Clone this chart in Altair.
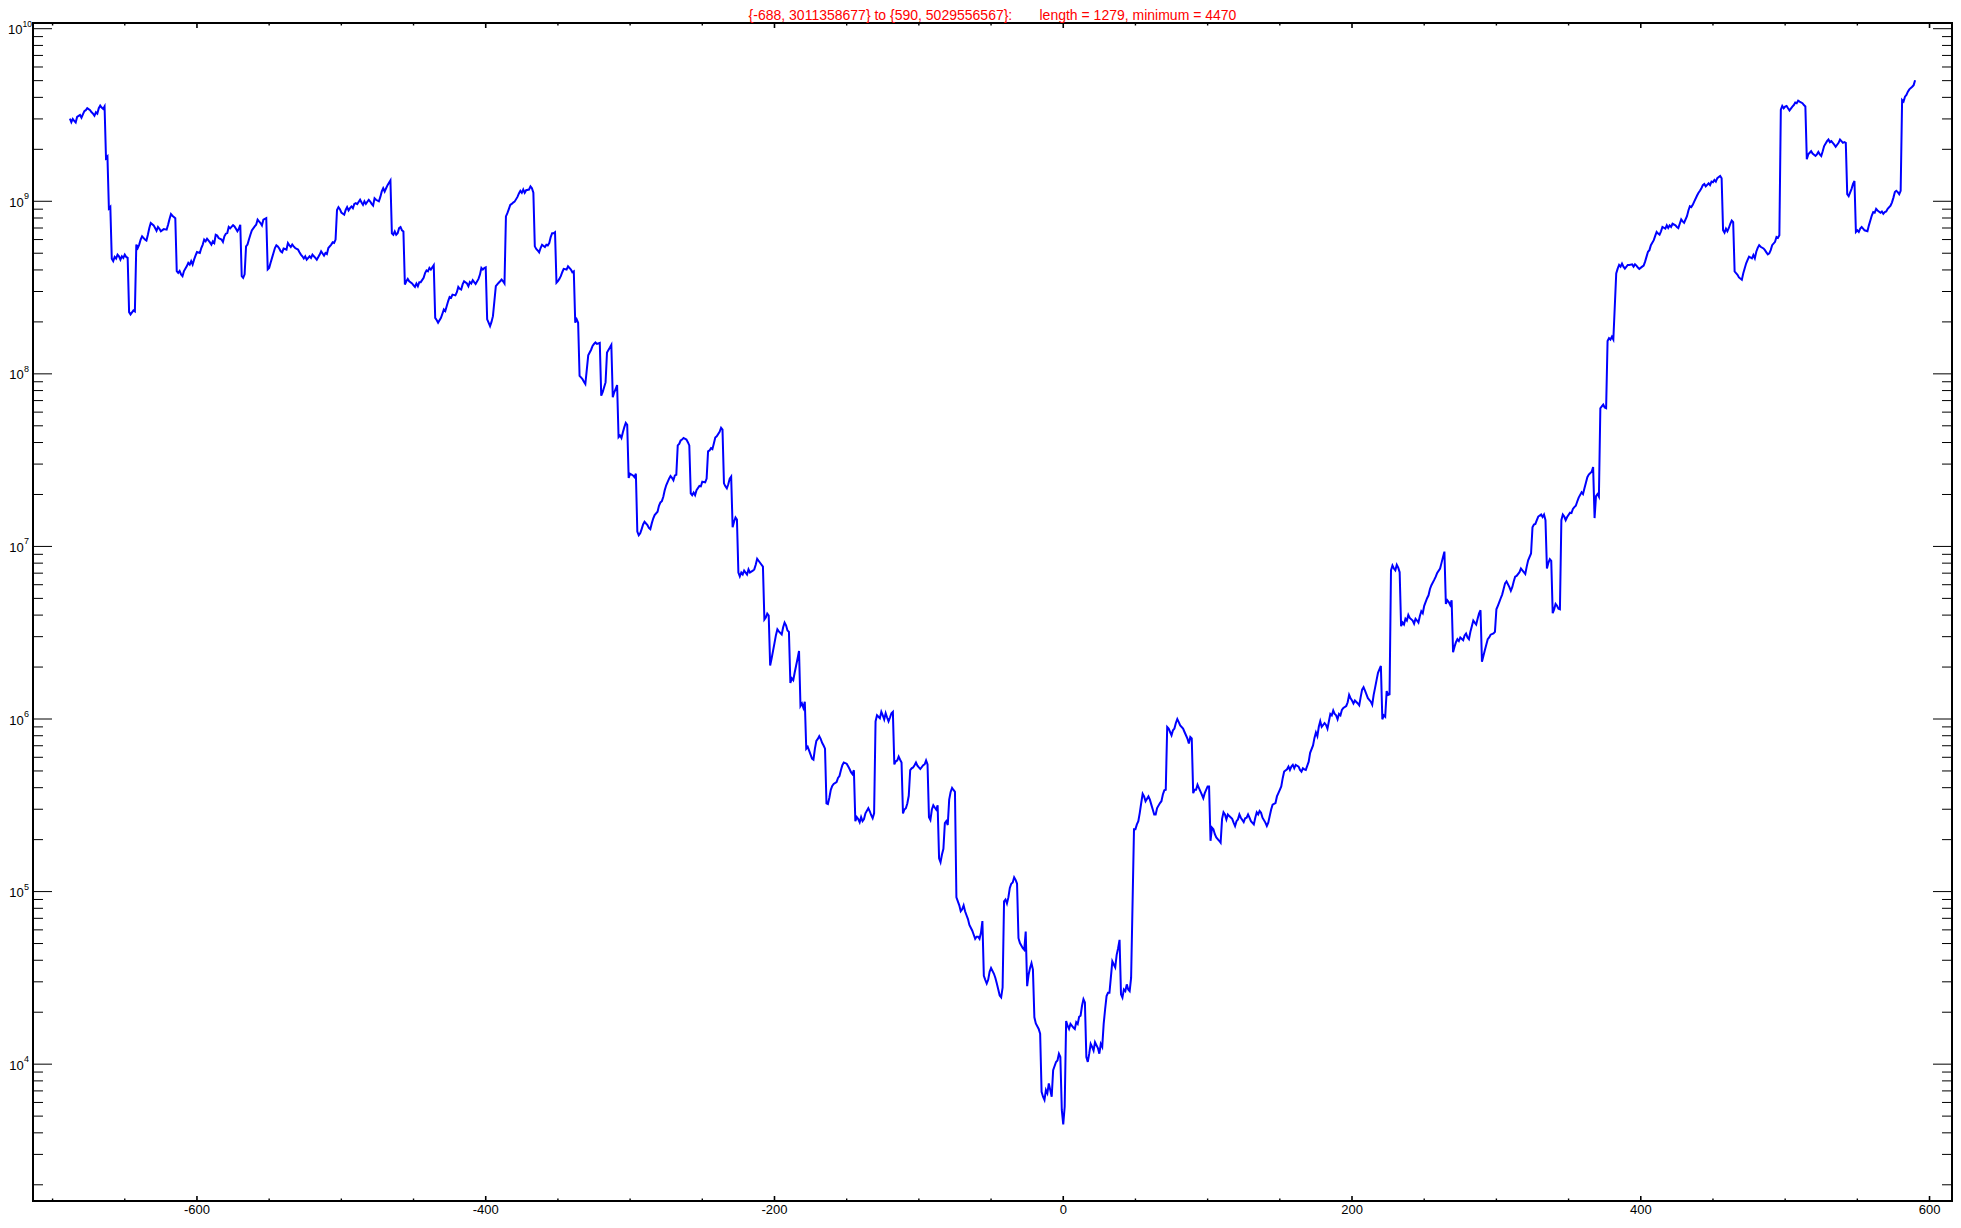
import altair as alt
import pandas as pd

# ---- data (x, value) ----
seg_a = [(-688,3.011358677e9),(-687,2.87e9),(-686,3.0e9),(-685,2.92e9),(-684,2.86e9),(-683,3.08e9),(-681,3.16e9),(-680,3.05e9),(-679,3.19e9),(-678,3.33e9),(-677,3.37e9),(-676,3.46e9),(-674,3.37e9),(-673,3.28e9),(-672,3.22e9),(-671,3.13e9),(-670,3.28e9),(-669,3.22e9),(-668,3.46e9),(-667,3.58e9),(-666,3.49e9),(-665,3.43e9),(-664,3.55e9),(-663,1.78e9),(-662,1.82e9),(-661,9.1e8),(-660,9.3e8),(-659,4.65e8),(-658,4.5e8),(-657,4.76e8),(-656,4.66e8),(-655,4.91e8),(-654,4.80e8),(-653,4.59e8),(-652,4.80e8),(-651,4.70e8),(-650,4.91e8),(-649,4.76e8),(-648,4.70e8),(-647,2.28e8),(-646,2.21e8),(-644,2.33e8),(-643,2.30e8),(-642,5.61e8),(-641,5.36e8),(-640,5.61e8),(-639,6.0e8),(-638,6.27e8),(-636,6.0e8),(-635,5.92e8),(-634,6.40e8),(-633,7.0e8),(-632,7.48e8),(-630,7.25e8),(-629,7.0e8),(-628,6.75e8),(-627,7.1e8),(-626,6.93e8),(-625,6.70e8),(-623,6.9e8),(-621,6.85e8),(-620,7.31e8),(-619,7.89e8),(-618,8.43e8),(-617,8.25e8),(-615,7.98e8),(-614,3.94e8),(-613,3.85e8),(-612,3.95e8),(-611,3.77e8),(-610,3.68e8),(-609,3.94e8),(-607,4.21e8),(-606,4.40e8),(-605,4.30e8),(-604,4.50e8),(-603,4.30e8),(-602,4.59e8),(-601,4.84e8),(-600,5.08e8),(-598,5.02e8),(-597,5.36e8),(-596,5.61e8),(-595,6.0e8),(-594,5.86e8),(-593,6.07e8),(-591,5.78e8),(-590,5.61e8),(-589,5.86e8),(-588,5.73e8),(-587,6.40e8),(-586,6.34e8),(-585,6.12e8),(-583,6.0e8),(-582,5.81e8),(-581,6.27e8),(-580,6.49e8),(-579,6.55e8),(-578,7.10e8),(-577,6.97e8),(-575,7.28e8),(-574,7.15e8),(-573,6.93e8),(-572,6.70e8),(-571,6.93e8),(-570,7.31e8),(-569,3.68e8),(-568,3.60e8),(-567,3.77e8),(-566,5.48e8),(-565,5.61e8),(-564,6.0e8),(-563,6.40e8),(-562,6.78e8),(-560,7.15e8),(-559,7.31e8),(-558,7.82e8),(-557,7.64e8),(-556,7.48e8),(-555,7.25e8),(-554,7.82e8),(-552,7.98e8),(-551,4.03e8),(-550,4.11e8),(-549,4.40e8),(-548,4.70e8),(-547,5.02e8),(-546,5.36e8),(-545,5.56e8),(-544,5.48e8),(-543,5.32e8),(-542,5.13e8),(-541,5.06e8),(-540,5.32e8),(-538,5.25e8),(-537,5.73e8),(-536,5.56e8),(-535,5.43e8),(-534,5.61e8),(-533,5.48e8),(-532,5.36e8),(-530,5.25e8),(-529,5.06e8),(-528,4.91e8),(-527,4.80e8),(-526,4.66e8),(-525,4.80e8),(-524,4.59e8),(-522,4.80e8),(-521,4.70e8),(-520,4.91e8),(-519,4.80e8),(-518,4.70e8),(-517,4.59e8),(-515,4.91e8),(-514,5.13e8),(-513,4.98e8),(-512,4.84e8),(-511,5.02e8),(-510,4.95e8),(-509,5.36e8),(-507,5.61e8),(-506,5.78e8),(-505,5.73e8),(-504,6.0e8),(-503,8.91e8),(-502,9.25e8),(-501,9.0e8),(-500,8.61e8),(-498,8.36e8),(-497,8.91e8),(-496,9.25e8),(-495,8.85e8),(-494,9.12e8),(-493,9.33e8),(-492,9.12e8),(-491,9.66e8),(-490,9.75e8),(-489,9.63e8),(-487,1.02e9),(-486,9.84e8),(-485,9.53e8),(-484,1.0e9),(-483,9.66e8),(-481,1.02e9),(-480,9.97e8)]

seg_b = [(-479,9.66e8),(-478,9.44e8),(-477,1.04e9),(-476,1.02e9),(-474,1.0e9),(-473,1.06e9),(-472,1.14e9),(-471,1.19e9),(-470,1.14e9),(-469,1.19e9),(-468,1.24e9),(-466,1.32e9),(-465,6.53e8),(-464,6.40e8),(-463,6.68e8),(-462,6.40e8),(-461,6.53e8),(-460,6.98e8),(-459,7.08e8),(-458,6.78e8),(-457,6.68e8),(-456,3.29e8),(-455,3.44e8),(-454,3.55e8),(-453,3.44e8),(-451,3.34e8),(-450,3.26e8),(-449,3.19e8),(-448,3.34e8),(-447,3.22e8),(-446,3.40e8),(-445,3.40e8),(-443,3.60e8),(-442,3.84e8),(-441,3.98e8),(-440,3.93e8),(-439,4.11e8),(-438,4.02e8),(-436,4.26e8),(-435,2.11e8),(-434,2.05e8),(-433,1.98e8),(-431,2.11e8),(-430,2.23e8),(-429,2.36e8),(-428,2.31e8),(-427,2.47e8),(-426,2.64e8),(-425,2.79e8),(-424,2.76e8),(-423,2.88e8),(-421,2.85e8),(-420,2.97e8),(-419,3.19e8),(-418,3.11e8),(-417,3.08e8),(-416,3.30e8),(-415,3.44e8),(-413,3.34e8),(-412,3.22e8),(-411,3.40e8),(-410,3.34e8),(-409,3.49e8),(-408,3.40e8),(-407,3.32e8),(-405,3.55e8),(-404,3.76e8),(-403,4.11e8),(-402,4.02e8),(-401,4.10e8),(-400,4.14e8),(-399,2.07e8),(-398,1.98e8),(-397,1.89e8),(-396,2.0e8),(-395,2.16e8),(-393,3.22e8),(-392,3.30e8),(-391,3.37e8),(-390,3.44e8),(-389,3.52e8),(-388,3.44e8),(-387,3.34e8),(-386,8.17e8),(-385,8.53e8),(-384,9.0e8),(-383,9.53e8),(-382,9.66e8),(-381,9.83e8),(-380,9.95e8),(-378,1.06e9),(-377,1.11e9),(-376,1.15e9),(-375,1.12e9),(-374,1.17e9),(-373,1.12e9),(-372,1.16e9),(-370,1.17e9),(-369,1.22e9),(-368,1.19e9),(-367,1.12e9),(-366,5.48e8),(-365,5.29e8),(-364,5.19e8),(-363,5.06e8),(-362,5.36e8),(-361,5.6e8),(-359,5.43e8),(-358,5.60e8),(-357,5.55e8),(-356,5.72e8),(-355,6.20e8),(-354,6.53e8),(-353,6.53e8),(-352,6.62e8),(-351,3.37e8),(-350,3.44e8),(-349,3.55e8),(-348,3.68e8),(-347,3.88e8),(-346,4.06e8),(-344,4.02e8),(-343,4.20e8),(-342,4.11e8),(-341,4.02e8),(-340,3.88e8),(-339,3.93e8),(-338,1.98e8),(-337,2.07e8),(-336,1.98e8),(-335,9.75e7),(-334,9.53e7),(-333,9.33e7),(-332,9.0e7),(-331,8.73e7),(-329,1.28e8),(-328,1.33e8),(-327,1.38e8),(-326,1.45e8),(-325,1.49e8),(-324,1.52e8),(-323,1.49e8),(-321,1.51e8),(-320,7.48e7),(-319,7.82e7),(-318,8.36e7),(-317,8.92e7),(-316,1.33e8),(-314,1.42e8),(-313,1.47e8),(-312,7.31e7),(-311,7.82e7),(-310,8.17e7),(-309,8.61e7),(-308,4.30e7),(-307,4.40e7),(-306,4.25e7),(-305,4.59e7),(-304,4.91e7),(-303,5.20e7),(-302,5.06e7),(-301,2.49e7),(-300,2.64e7),(-298,2.58e7),(-297,2.52e7),(-296,2.64e7),(-295,1.22e7),(-294,1.16e7),(-293,1.19e7),(-292,1.26e7),(-291,1.34e7),(-290,1.39e7),(-288,1.33e7),(-287,1.28e7),(-286,1.26e7),(-285,1.36e7),(-284,1.45e7),(-283,1.52e7),(-281,1.59e7),(-280,1.72e7),(-279,1.80e7),(-278,1.83e7),(-277,1.94e7),(-276,2.12e7),(-275,2.26e7),(-273,2.47e7),(-272,2.56e7),(-271,2.50e7),(-270,2.42e7),(-269,2.58e7),(-268,2.60e7),(-267,3.85e7),(-266,3.93e7),(-265,4.11e7),(-264,4.16e7),(-263,4.25e7),(-261,4.16e7),(-260,4.02e7),(-259,3.85e7),(-258,2.03e7),(-257,1.98e7),(-256,2.05e7),(-255,1.98e7),(-254,2.12e7),(-252,2.24e7)]

seg_c = [(-251,2.23e7),(-250,2.37e7),(-248,2.35e7),(-247,2.47e7),(-246,3.56e7),(-245,3.60e7),(-244,3.71e7),(-243,3.66e7),(-242,3.95e7),(-241,4.28e7),(-240,4.35e7),(-238,4.62e7),(-237,4.87e7),(-236,4.75e7),(-235,2.32e7),(-234,2.23e7),(-233,2.17e7),(-232,2.29e7),(-231,2.47e7),(-230,2.54e7),(-229,1.29e7),(-228,1.39e7),(-227,1.47e7),(-226,1.43e7),(-225,7.06e6),(-224,6.70e6),(-223,7.06e6),(-222,6.88e6),(-221,7.24e6),(-220,7.06e6),(-219,6.88e6),(-218,7.36e6),(-217,7.06e6),(-215,7.24e6),(-214,7.36e6),(-213,7.83e6),(-212,8.48e6),(-211,8.26e6),(-210,8.04e6),(-208,7.63e6),(-207,3.77e6),(-206,3.87e6),(-205,4.08e6),(-204,3.98e6),(-203,2.04e6),(-202,2.24e6),(-201,2.48e6),(-200,2.75e6),(-199,3.06e6),(-198,3.31e6),(-197,3.22e6),(-195,3.09e6),(-194,3.40e6),(-193,3.62e6),(-192,3.49e6),(-191,3.26e6),(-190,3.2e6),(-189,1.62e6),(-188,1.72e6),(-187,1.68e6),(-186,1.86e6),(-185,2.04e6),(-184,2.24e6),(-183,2.48e6),(-182,1.19e6),(-181,1.23e6),(-180,1.16e6),(-179,1.26e6),(-178,6.73e5),(-177,6.9e5),(-176,6.55e5),(-175,6.22e5),(-174,5.90e5),(-173,5.81e5),(-172,6.73e5),(-171,7.47e5),(-170,7.67e5),(-169,7.95e5),(-168,7.67e5),(-167,7.28e5),(-166,7.02e5),(-165,6.73e5),(-164,3.24e5),(-163,3.21e5),(-162,3.50e5),(-161,3.89e5),(-160,4.09e5),(-159,4.20e5),(-157,4.31e5),(-156,4.55e5),(-155,4.67e5),(-154,5.05e5),(-153,5.40e5),(-152,5.60e5),(-150,5.51e5),(-149,5.32e5),(-148,5.13e5),(-147,4.92e5),(-146,4.79e5),(-145,5.05e5),(-144,2.56e5),(-143,2.70e5),(-142,2.63e5),(-141,2.52e5),(-140,2.70e5),(-139,2.56e5),(-138,2.63e5),(-137,2.84e5),(-135,3.04e5),(-134,2.92e5),(-133,2.77e5),(-132,2.66e5),(-131,2.84e5),(-130,9.68e5),(-129,1.05e6),(-127,1.01e6),(-126,1.10e6),(-125,1.05e6),(-124,9.95e5),(-123,1.08e6),(-122,1.02e6),(-121,9.68e5),(-120,1.02e6),(-119,1.08e6),(-118,1.10e6),(-117,5.46e5),(-116,5.69e5),(-115,5.75e5),(-114,6.06e5),(-113,5.81e5),(-112,5.60e5),(-111,2.84e5),(-110,2.99e5),(-109,3.04e5),(-108,3.24e5),(-107,3.59e5),(-106,5.05e5),(-105,5.18e5),(-104,5.24e5),(-103,5.40e5),(-102,5.60e5),(-101,5.37e5),(-100,5.24e5),(-99,5.13e5),(-97,5.40e5),(-96,5.46e5),(-95,5.75e5),(-94,5.46e5),(-93,2.70e5),(-92,2.60e5),(-91,2.99e5),(-90,3.16e5),(-89,3.07e5),(-88,2.99e5),(-87,3.16e5),(-86,1.56e5),(-85,1.48e5),(-84,1.64e5),(-83,1.77e5),(-82,2.49e5),(-81,2.56e5),(-80,2.43e5),(-79,3.41e5),(-78,3.78e5),(-77,3.99e5),(-76,3.88e5),(-75,3.78e5),(-74,9.25e4),(-73,8.77e4),(-72,8.32e4),(-71,7.69e4),(-70,7.89e4),(-69,8.32e4),(-68,7.69e4),(-67,7.29e4),(-66,6.93e4),(-65,6.41e4),(-63,5.93e4),(-62,5.62e4),(-61,5.33e4),(-60,5.48e4),(-59,5.48e4),(-58,5.33e4),(-57,5.77e4),(-56,6.75e4),(-55,3.25e4),(-54,3.08e4),(-53,2.93e4),(-52,3.08e4),(-51,3.43e4),(-50,3.61e4),(-48,3.34e4),(-47,3.16e4),(-46,2.93e4),(-45,2.71e4),(-44,2.50e4),(-43,2.44e4),(-42,2.78e4),(-41,8.77e4),(-40,9.0e4),(-39,8.53e4),(-38,9.25e4),(-37,1.05e5)]

seg_d = [(-36,1.11e5),(-35,1.13e5),(-34,1.21e5),(-33,1.17e5),(-32,1.11e5),(-31,5.37e4),(-30,5.03e4),(-28,4.70e4),(-27,4.6e4),(-26,5.86e4),(-25,2.83e4),(-24,3.30e4),(-23,3.61e4),(-22,3.85e4),(-21,3.53e4),(-20,1.87e4),(-19,1.72e4),(-17,1.60e4),(-16,1.50e4),(-15,6.92e3),(-14,6.48e3),(-13,6.21e3),(-12,7.08e3),(-11,6.78e3),(-10,7.73e3),(-9,7.08e3),(-8,6.48e3),(-7,9.23e3),(-5,1.03e4),(-4,1.05e4),(-3,1.15e4),(-2,1.10e4),(-1,5.43e3),(0,4470),(1,5.68e3),(2,1.78e4),(3,1.67e4),(4,1.60e4),(5,1.71e4),(7,1.63e4),(8,1.60e4),(9,1.75e4),(10,1.71e4),(11,1.88e4),(12,1.91e4),(13,2.18e4),(14,2.38e4),(15,2.28e4),(16,1.10e4),(17,1.03e4),(18,1.15e4),(19,1.31e4),(20,1.26e4),(21,1.20e4),(22,1.34e4),(24,1.24e4),(25,1.15e4),(26,1.31e4),(27,1.26e4),(28,1.71e4),(29,2.08e4),(30,2.48e4),(31,2.59e4),(32,2.59e4),(34,3.94e4),(35,3.78e4),(36,3.64e4),(37,4.30e4),(38,4.70e4),(39,5.25e4),(40,2.54e4),(41,2.43e4),(42,2.71e4),(43,2.65e4),(44,2.90e4),(45,2.71e4),(46,2.65e4),(47,3.16e4),(49,2.30e5),(50,2.30e5),(51,2.45e5),(52,2.56e5),(53,2.86e5),(54,3.26e5),(55,3.69e5),(56,3.56e5),(57,3.34e5),(59,3.56e5),(60,3.41e5),(61,3.19e5),(62,2.99e5),(63,2.80e5),(64,2.80e5),(65,3.05e5),(67,3.26e5),(68,3.34e5),(69,3.65e5),(70,3.86e5),(71,3.89e5),(72,8.99e5),(73,8.80e5),(74,8.41e5),(75,8.05e5),(76,8.6e5),(77,8.80e5),(78,9.48e5),(79,1.00e6),(80,9.60e5),(81,9.19e5),(83,8.80e5),(84,8.41e5),(85,8.05e5),(86,7.71e5),(87,7.21e5),(88,7.87e5),(89,7.71e5),(90,3.72e5),(91,3.89e5),(92,3.89e5),(93,4.16e5),(94,3.98e5),(95,3.81e5),(96,3.65e5),(97,3.48e5),(98,3.72e5),(100,4.07e5),(101,4.07e5),(102,1.97e5),(103,2.35e5),(104,2.30e5),(105,2.15e5),(106,2.06e5),(108,1.97e5),(109,1.92e5),(110,2.64e5),(111,2.88e5),(112,2.80e5),(113,2.62e5),(114,2.80e5),(115,2.74e5),(117,2.64e5),(118,2.51e5),(119,2.40e5),(120,2.56e5),(121,2.62e5),(122,2.80e5),(123,2.68e5),(125,2.53e5),(126,2.66e5),(127,2.68e5),(128,2.80e5),(129,2.68e5),(130,2.56e5),(132,2.45e5),(133,2.68e5),(134,2.88e5),(135,2.80e5),(136,2.93e5),(137,2.86e5),(138,2.68e5),(140,2.51e5),(141,2.40e5),(142,2.51e5),(143,2.74e5),(144,2.99e5),(145,3.19e5),(147,3.26e5),(148,3.56e5),(149,3.72e5),(150,3.89e5),(151,4.07e5),(152,4.54e5),(153,4.96e5),(155,5.11e5),(156,5.30e5),(157,5.07e5),(158,5.30e5),(159,5.42e5),(160,5.18e5),(161,5.42e5),(163,5.30e5),(164,5.07e5),(165,4.96e5),(166,5.18e5),(167,5.11e5),(168,5.07e5),(170,5.66e5)]

seg_e = [(171,6.37e5),(173,7.03e5),(174,7.77e5),(175,8.36e5),(176,7.96e5),(177,9.01e5),(178,9.70e5),(179,9.01e5),(181,9.46e5),(182,9.24e5),(183,8.79e5),(184,9.70e5),(185,1.07e6),(186,1.05e6),(187,1.12e6),(188,1.07e6),(189,1.05e6),(190,9.96e5),(191,1.07e6),(192,1.05e6),(193,1.13e6),(194,1.16e6),(196,1.19e6),(197,1.25e6),(198,1.38e6),(199,1.32e6),(200,1.28e6),(201,1.23e6),(202,1.28e6),(204,1.23e6),(205,1.20e6),(206,1.34e6),(207,1.48e6),(208,1.53e6),(209,1.46e6),(210,1.39e6),(211,1.32e6),(213,1.26e6),(214,1.21e6),(215,1.38e6),(216,1.52e6),(217,1.68e6),(218,1.85e6),(220,2.03e6),(221,9.96e5),(222,1.05e6),(223,1.03e6),(224,1.45e6),(225,1.38e6),(226,1.39e6),(227,7.27e6),(228,7.76e6),(229,7.45e6),(230,7.27e6),(231,7.83e6),(232,7.54e6),(233,7.10e6),(234,3.45e6),(235,3.62e6),(236,3.53e6),(237,3.81e6),(238,3.72e6),(239,4.01e6),(240,3.85e6),(242,3.72e6),(243,3.57e6),(244,3.81e6),(245,3.72e6),(246,3.62e6),(247,3.95e6),(248,4.21e6),(249,4.10e6),(250,4.53e6),(252,5.01e6),(253,5.21e6),(254,5.67e6),(255,5.96e6),(257,6.42e6),(258,6.68e6),(259,7.02e6),(261,7.45e6),(262,8.03e6),(263,8.65e6),(264,9.33e6),(265,4.64e6),(266,4.88e6),(267,4.76e6),(268,4.58e6),(269,4.88e6),(270,2.44e6),(271,2.62e6),(272,2.79e6),(273,2.90e6),(274,2.83e6),(275,2.97e6),(277,2.86e6),(278,3.05e6),(279,3.13e6),(280,2.97e6),(281,2.90e6),(282,3.20e6),(283,3.45e6),(284,3.72e6),(285,3.62e6),(286,3.53e6),(287,3.81e6),(288,4.10e6),(289,4.27e6),(290,2.15e6),(291,2.32e6),(292,2.50e6),(293,2.69e6),(294,2.90e6),(295,2.97e6),(296,3.08e6),(298,3.13e6),(299,3.20e6),(300,4.32e6),(301,4.53e6),(302,4.76e6),(303,5.01e6),(304,5.26e6),(305,5.67e6),(306,6.11e6),(307,6.27e6),(309,5.81e6),(310,5.53e6),(311,5.81e6),(312,6.27e6),(313,6.68e6),(314,6.75e6),(316,7.09e6),(317,7.45e6),(318,7.27e6),(319,7.09e6),(320,6.92e6),(321,7.64e6),(322,8.31e6),(324,9.10e6),(325,1.29e7),(326,1.34e7),(327,1.35e7),(328,1.42e7),(329,1.49e7),(331,1.53e7),(332,1.48e7),(333,1.53e7),(334,1.42e7),(335,7.45e6),(336,8.03e6),(337,8.44e6),(338,8.24e6),(339,4.10e6),(340,4.32e6),(341,4.64e6),(342,4.53e6),(343,4.35e6),(344,4.32e6),(345,1.42e7),(346,1.53e7),(347,1.49e7),(348,1.42e7),(349,1.48e7),(351,1.57e7),(352,1.56e7),(353,1.65e7),(354,1.69e7),(355,1.72e7),(356,1.82e7),(357,1.92e7),(359,2.06e7),(360,2.01e7),(361,2.17e7),(362,2.34e7),(363,2.52e7),(364,2.61e7),(366,2.71e7),(367,2.88e7),(368,1.46e7),(369,1.96e7),(370,2.01e7),(371,1.94e7),(372,6.32e7),(373,6.48e7),(374,6.64e7),(375,6.38e7),(376,6.32e7),(377,1.55e8),(378,1.61e8),(379,1.58e8),(380,1.64e8),(381,1.58e8),(383,3.82e8),(384,4.07e8),(385,4.28e8),(386,4.18e8),(387,4.35e8),(388,4.18e8),(389,4.07e8),(391,4.28e8)]

seg_f = [(392,4.28e8),(394,4.31e8),(395,4.18e8),(396,4.31e8),(397,4.24e8),(398,4.13e8),(399,4.06e8),(401,4.18e8),(402,4.24e8),(403,4.47e8),(404,4.78e8),(405,5.10e8),(406,5.21e8),(407,5.57e8),(409,5.95e8),(410,6.30e8),(411,6.64e8),(412,6.50e8),(413,6.41e8),(414,6.70e8),(415,7.10e8),(417,6.94e8),(418,7.25e8),(419,7.00e8),(420,7.25e8),(421,7.10e8),(422,7.41e8),(424,7.25e8),(425,7.10e8),(426,7.00e8),(427,7.41e8),(428,7.85e8),(429,7.64e8),(430,7.51e8),(432,8.20e8),(433,8.84e8),(434,9.36e8),(435,9.25e8),(436,9.53e8),(437,9.96e8),(439,1.08e9),(440,1.12e9),(441,1.15e9),(442,1.19e9),(443,1.24e9),(444,1.26e9),(445,1.22e9),(447,1.27e9),(448,1.24e9),(449,1.30e9),(450,1.29e9),(451,1.33e9),(452,1.30e9),(453,1.36e9),(455,1.40e9),(456,1.36e9),(457,6.79e8),(458,6.58e8),(459,6.94e8),(460,6.70e8),(461,7.00e8),(462,7.41e8),(463,7.74e8),(464,7.58e8),(465,3.92e8),(466,3.83e8),(467,3.75e8),(468,3.62e8),(470,3.51e8),(471,3.83e8),(472,4.09e8),(473,4.37e8),(474,4.57e8),(475,4.78e8),(477,4.67e8),(478,4.88e8),(479,4.67e8),(480,5.10e8),(481,5.37e8),(482,5.57e8),(483,5.45e8),(485,5.33e8),(486,5.21e8),(487,5.06e8),(488,4.92e8),(489,4.99e8),(490,5.21e8),(491,5.57e8),(493,5.82e8),(494,6.21e8),(495,6.14e8),(496,6.36e8),(497,3.39e9),(498,3.57e9),(499,3.46e9),(500,3.54e9),(501,3.57e9),(502,3.46e9),(503,3.36e9),(505,3.54e9),(506,3.61e9),(507,3.73e9),(508,3.70e9),(509,3.83e9),(510,3.78e9),(512,3.70e9),(513,3.61e9),(514,3.54e9),(515,1.75e9),(516,1.87e9),(517,1.91e9),(518,1.95e9),(519,1.89e9),(521,1.83e9),(522,1.87e9),(523,1.93e9),(524,1.87e9),(525,1.83e9),(526,1.95e9),(527,2.09e9),(529,2.23e9),(530,2.28e9),(531,2.20e9),(532,2.23e9),(533,2.18e9),(534,2.13e9),(535,2.07e9),(537,2.18e9),(538,2.28e9),(539,2.23e9),(540,2.18e9),(541,2.20e9),(542,2.18e9),(543,1.10e9),(544,1.07e9),(546,1.18e9),(547,1.26e9),(548,1.31e9),(549,6.64e8),(550,6.79e8),(551,6.64e8),(552,6.94e8),(553,7.10e8),(554,6.94e8),(555,6.79e8),(557,6.70e8),(558,7.25e8),(559,7.74e8),(560,8.27e8),(561,8.65e8),(562,8.58e8),(563,9.04e8),(564,8.84e8),(566,8.58e8),(567,8.73e8),(568,8.46e8),(569,8.65e8),(570,8.73e8),(571,9.04e8),(573,9.44e8),(574,9.86e8),(575,1.05e9),(576,1.13e9),(577,1.15e9),(578,1.13e9),(579,1.10e9),(580,1.15e9),(581,3.86e9),(582,3.78e9),(583,4.04e9),(584,4.13e9),(585,4.32e9),(586,4.45e9),(588,4.61e9),(589,4.71e9),(590,5.029556567e9)]

NB = "\u00a0"
title_text = "{-688, 3011358677} to {590, 5029556567}:" + NB * 7 + "length = 1279, minimum = 4470"

x_major_ticks = [-600, -400, -200, 0, 200, 400, 600]
x_tick_labels = ["-600", "-400", "-200", "0", "200", "400", "600"]
x_minor_ticks = [-700, -650, -550, -500, -450, -350, -300, -250, -150, -100, -50,
                 50, 100, 150, 250, 300, 350, 450, 500, 550]
y_major_ticks = [1e4, 1e5, 1e6, 1e7, 1e8, 1e9, 1e10]
y_label_base = ["10", "10", "10", "10", "10", "10", "10"]
y_label_exp = ["4", "5", "6", "7", "8", "9", "10"]
y_minor_ticks = [m * 10.0 ** e for e in range(3, 10) for m in range(2, 10)]

# ---- build ----
points = seg_a + seg_b + seg_c + seg_d + seg_e + seg_f
df = pd.DataFrame(points, columns=["x", "y"]).drop_duplicates("x").sort_values("x")

PAD_L, PAD_T, PAD_R, PAD_B = 25, 15, 1, 19
W, H = 1919, 1178
FONT = "Liberation Sans"

xscale = alt.Scale(domain=[-713.56, 615.56], nice=False, zero=False)
yscale = alt.Scale(type="log", domain=[1611, 1.079e10], nice=False)

line = alt.Chart(df).mark_line(color="#0000ff", strokeWidth=2).encode(
    x=alt.X("x:Q", scale=xscale, axis=None),
    y=alt.Y("y:Q", scale=yscale, axis=None),
)

xmaj = pd.DataFrame({"x": x_major_ticks, "label": x_tick_labels})
xmin = pd.DataFrame({"x": x_minor_ticks})
ymaj = pd.DataFrame({"y": y_major_ticks, "base": y_label_base, "exp": y_label_exp})
ymin = pd.DataFrame({"y": y_minor_ticks})


def xticks(data, y0, y1, sw):
    return alt.Chart(data).mark_rule(color="black", strokeWidth=sw).encode(
        x=alt.X("x:Q", scale=xscale, axis=None),
        y=alt.value(y0), y2=alt.value(y1))


def yticks(data, x0, x1):
    return alt.Chart(data).mark_rule(color="black", strokeWidth=1).encode(
        y=alt.Y("y:Q", scale=yscale, axis=None),
        x=alt.value(x0), x2=alt.value(x1))


ticks = [
    xticks(xmaj, H, H - 5, 1.6), xticks(xmin, H, H - 2.5, 1.4),
    xticks(xmaj, 0, 5, 1.6), xticks(xmin, 0, 2.5, 1.4),
    yticks(ymaj, 0, 19), yticks(ymin, 0, 10),
    yticks(ymaj, W, W - 19), yticks(ymin, W, W - 10),
]

# tick labels as text marks
x_labels = alt.Chart(xmaj).mark_text(
    font=FONT, fontSize=13, color="black", align="center", baseline="top"
).encode(x=alt.X("x:Q", scale=xscale, axis=None), y=alt.value(H + 3), text="label:N")

ymaj_short = ymaj[ymaj["exp"].str.len() == 1]
ymaj_long = ymaj[ymaj["exp"].str.len() == 2]


def ytext(data, xpos, size, dy, field):
    return alt.Chart(data).mark_text(
        font=FONT, fontSize=size, color="black", align="right", baseline="middle", dy=dy
    ).encode(y=alt.Y("y:Q", scale=yscale, axis=None), x=alt.value(xpos), text=f"{field}:N")


y_texts = [
    ytext(ymaj_short, -4, 9, -5, "exp"),
    ytext(ymaj_short, -9.2, 13, 1.5, "base"),
    ytext(ymaj_long, -1, 8.5, -5, "exp"),
    ytext(ymaj_long, -10.6, 13, 1.5, "base"),
]

title_df = pd.DataFrame({"t": [title_text]})
title = alt.Chart(title_df).mark_text(
    font=FONT, fontSize=14, color="red", align="center", baseline="alphabetic"
).encode(x=alt.value(W / 2), y=alt.value(-3.5), text="t:N")

chart = alt.layer(line, *ticks, x_labels, *y_texts, title).properties(
    width=W, height=H,
    autosize=alt.AutoSizeParams(type="none"),
    padding={"left": PAD_L, "top": PAD_T, "right": PAD_R, "bottom": PAD_B},
    background="white",
).configure_view(stroke="black", strokeWidth=2)

chart.save("out.html", embed_options={"renderer": "svg", "actions": False})
